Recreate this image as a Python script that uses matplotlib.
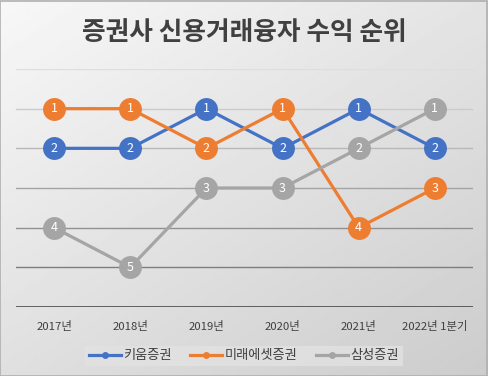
import matplotlib
matplotlib.use("Agg")
import matplotlib.pyplot as plt
import numpy as np

plt.rcParams['font.family'] = ['Noto Sans CJK KR', 'DejaVu Sans']

categories = ["2017년", "2018년", "2019년", "2020년", "2021년", "2022년 1분기"]
kiwoom = [2, 2, 1, 2, 1, 2]
mirae = [1, 1, 2, 1, 4, 3]
samsung = [4, 5, 3, 3, 2, 1]

series = [("키움증권", kiwoom, "#4472C4"),
          ("미래에셋증권", mirae, "#ED7D31"),
          ("삼성증권", samsung, "#A5A5A5")]

fig = plt.figure(figsize=(4.88, 3.76), dpi=100)

# gradient background (light top-left, darker bottom-right)
bg = fig.add_axes([0, 0, 1, 1], zorder=-10)
yy, xx = np.mgrid[0:1:200j, 0:1:200j]
grad = 0.97 - 0.17 * (0.45 * xx + 0.55 * yy)
bg.imshow(grad, cmap="gray", vmin=0, vmax=1, extent=[0, 1, 0, 1],
          aspect="auto", origin="upper")
bg.set_xlim(0, 1)
bg.set_ylim(0, 1)
bg.axis("off")
bg.add_patch(plt.Rectangle((0.001, 0.001), 0.997, 0.996, fill=False,
                           edgecolor="#b0b0b0", linewidth=1.2))

W, H = 488, 376
ax = fig.add_axes([16 / W, (H - 307) / H, (473 - 16) / W, (307 - 69) / H])
ax.set_facecolor("none")
ax.set_xlim(-0.5, len(categories) - 0.5)
ax.set_ylim(6, 0)

# horizontal gridlines, darker towards the bottom
for r in range(0, 6):
    shade = 0.87 - 0.075 * r
    ax.axhline(r, color=(shade, shade, shade), linewidth=1, zorder=1)
ax.axhline(6, color="#3a3a3a", linewidth=1.8, zorder=1)

x = np.arange(len(categories))
for name, vals, col in series:
    ax.plot(x, vals, color=col, linewidth=2.3, marker="o", markersize=16.5,
            markeredgewidth=0, label=name, zorder=3)
    for xi, v in zip(x, vals):
        ax.text(xi, v, str(v), color="white", fontsize=9, ha="center",
                va="center", zorder=4)

for s in ax.spines.values():
    s.set_visible(False)
ax.set_yticks([])
ax.set_xticks(x)
ax.set_xticklabels(categories, fontsize=8.2, color="#404040", fontweight="medium")
ax.tick_params(axis="x", length=0, pad=10)

fig.text(244 / W, 1 - 32 / H, "증권사 신용거래융자 수익 순위", ha="center",
         va="center", fontsize=18.5, fontweight="bold", color="#404040")

handles = [plt.Line2D([0], [0], color=c, linewidth=2.3, marker="o",
                      markersize=5, markeredgewidth=0) for _, _, c in series]
leg = fig.legend(handles, [n for n, _, _ in series], loc="center",
                 bbox_to_anchor=(244 / W, 1 - 356 / H), ncol=3, frameon=True,
                 fontsize=9.5, handlelength=2.4, handletextpad=0.2,
                 columnspacing=1.4, borderpad=0.3, fancybox=False)
leg.get_frame().set_facecolor("#e2e2e2")
leg.get_frame().set_edgecolor("none")
for t in leg.get_texts():
    t.set_color("#404040")

fig.savefig("out.png", dpi=100)
